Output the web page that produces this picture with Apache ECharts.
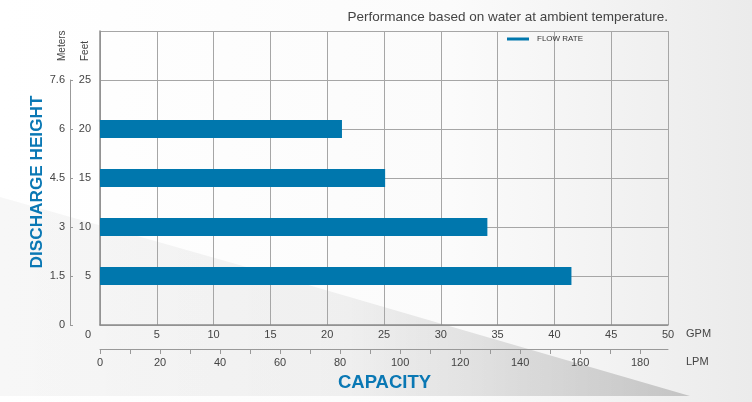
<!DOCTYPE html>
<html>
<head>
<meta charset="utf-8">
<script src="https://cdn.jsdelivr.net/npm/echarts@6/dist/echarts.min.js"></script>
<style>
html,body{margin:0;padding:0;background:#fff;}
#chart{width:752px;height:402px;}
</style>
</head>
<body>
<div id="chart"></div>
<script>
// ---- data ----
const feetCategories = ['0', '5', '10', '15', '20', '25', '30'];
const barHeightsFt = ['5', '10', '15', '20'];
const flowGpm = [41.5, 34.1, 25.1, 21.3];
const meterLabels = ['0', '1.5', '3', '4.5', '6', '7.6']; // at 0,5,10,15,20,25 ft
const lpmMax = 189.27; // 50 GPM in LPM
const seriesName = 'FLOW RATE';

const chart = echarts.init(document.getElementById('chart'), null, {renderer: 'canvas'});
const FONT = 'Liberation Sans, Arial, Helvetica, sans-serif';
const BLUE = '#0077ad';
const TITLE_BLUE = '#0a78b4';
const GRID = '#a6a6a6';

const option = {
  backgroundColor: new echarts.graphic.LinearGradient(0, 0, 1, 0, [
    {offset: 0, color: '#ffffff'},
    {offset: 0.6, color: '#fbfbfb'},
    {offset: 1, color: '#ebebeb'}
  ]),
  animation: false,
  textStyle: {fontFamily: FONT},
  title: {
    text: 'Performance based on water at ambient temperature.',
    right: 84, top: 10, padding: 0,
    textStyle: {fontSize: 13.5, fontWeight: 'normal', color: '#444', fontFamily: FONT}
  },
  legend: {
    data: [seriesName],
    left: 507, top: 35, padding: 0,
    icon: 'rect', itemWidth: 22, itemHeight: 3,
    textStyle: {fontSize: 8, color: '#333', fontFamily: FONT, padding: [0, 0, 0, 3]}
  },
  graphic: [
    {
      type: 'polygon', z: -10, silent: true,
      shape: {points: [[0, 197], [250, 268], [480, 335], [690, 396], [0, 396]]},
      style: {
        fill: new echarts.graphic.LinearGradient(0, 0, 1, 0, [
          {offset: 0, color: 'rgba(0,0,0,0.03)'},
          {offset: 0.5, color: 'rgba(0,0,0,0.05)'},
          {offset: 1, color: 'rgba(0,0,0,0.18)'}
        ])
      }
    },
    {
      type: 'text', x: 62, y: 61, rotation: Math.PI / 2,
      style: {text: 'Meters', fontSize: 10, fill: '#444', fontFamily: FONT, align: 'left', verticalAlign: 'middle'}
    },
    {
      type: 'text', x: 85.5, y: 61, rotation: Math.PI / 2,
      style: {text: 'Feet', fontSize: 10, fill: '#444', fontFamily: FONT, align: 'left', verticalAlign: 'middle'}
    },
    {
      type: 'text', x: 686, y: 334,
      style: {text: 'GPM', fontSize: 11, fill: '#444', fontFamily: FONT, align: 'left', verticalAlign: 'middle'}
    },
    {
      type: 'text', x: 686, y: 362,
      style: {text: 'LPM', fontSize: 11, fill: '#444', fontFamily: FONT, align: 'left', verticalAlign: 'middle'}
    },
    {
      type: 'text', x: 384.5, y: 383,
      style: {text: 'CAPACITY', fontSize: 18.5, fontWeight: 'bold', fill: TITLE_BLUE, fontFamily: FONT, align: 'center', verticalAlign: 'middle'}
    }
  ],
  grid: [
    {left: 100, right: 84, top: 31, bottom: 77},
    {left: 70, width: 1, top: 80, bottom: 77}
  ],
  xAxis: [
    {
      type: 'value', gridIndex: 0, min: 0, max: 50, interval: 5,
      axisLine: {show: true, lineStyle: {color: '#8c8c8c', width: 1.5}},
      axisTick: {show: false},
      splitLine: {show: true, lineStyle: {color: GRID, width: 1}},
      axisLabel: {
        fontSize: 11, color: '#444', margin: 4,
        formatter: v => (v === 0 ? '{z|0}' : String(v)),
        rich: {z: {fontSize: 11, color: '#444', padding: [0, 24, 0, 0]}}
      }
    },
    {
      type: 'value', gridIndex: 0, position: 'bottom', offset: 24,
      min: 0, max: lpmMax, interval: 10,
      axisLine: {show: true, lineStyle: {color: '#999', width: 1}},
      axisTick: {show: true, length: 5, lineStyle: {color: '#999'}},
      splitLine: {show: false},
      axisLabel: {
        fontSize: 11, color: '#444', margin: 8, showMaxLabel: false,
        formatter: v => (v % 20 === 0 && v <= 180 ? String(v) : '')
      }
    },
    {type: 'value', gridIndex: 1, show: false, min: 0, max: 1}
  ],
  yAxis: [
    {
      type: 'category', gridIndex: 0, data: feetCategories, boundaryGap: false,
      name: 'DISCHARGE HEIGHT', nameLocation: 'middle', nameGap: 54, nameRotate: 90,
      nameTextStyle: {fontSize: 17.2, fontWeight: 'bold', color: TITLE_BLUE, fontFamily: FONT, padding: [0, 8, 0, 0]},
      axisLine: {show: true, lineStyle: {color: '#8c8c8c', width: 1.5}},
      axisTick: {show: false},
      splitLine: {show: true, lineStyle: {color: GRID, width: 1}},
      axisLabel: {
        interval: 0, fontSize: 11, color: '#444', margin: 9,
        formatter: v => (v === '0' || v === '30' ? '' : v)
      }
    },
    {
      type: 'value', gridIndex: 1, min: 0, max: 25, interval: 5,
      axisLine: {show: true, lineStyle: {color: '#999', width: 1}},
      axisTick: {show: true, inside: true, length: 3, lineStyle: {color: '#999'}},
      splitLine: {show: false},
      axisLabel: {
        fontSize: 11, color: '#444', margin: 5,
        formatter: v => meterLabels[Math.round(v / 5)]
      }
    }
  ],
  series: [
    {
      name: seriesName, type: 'bar', xAxisIndex: 0, yAxisIndex: 0,
      barWidth: 18,
      itemStyle: {color: BLUE},
      data: barHeightsFt.map((h, i) => [flowGpm[i], h])
    }
  ]
};
chart.setOption(option);
</script>
</body>
</html>
